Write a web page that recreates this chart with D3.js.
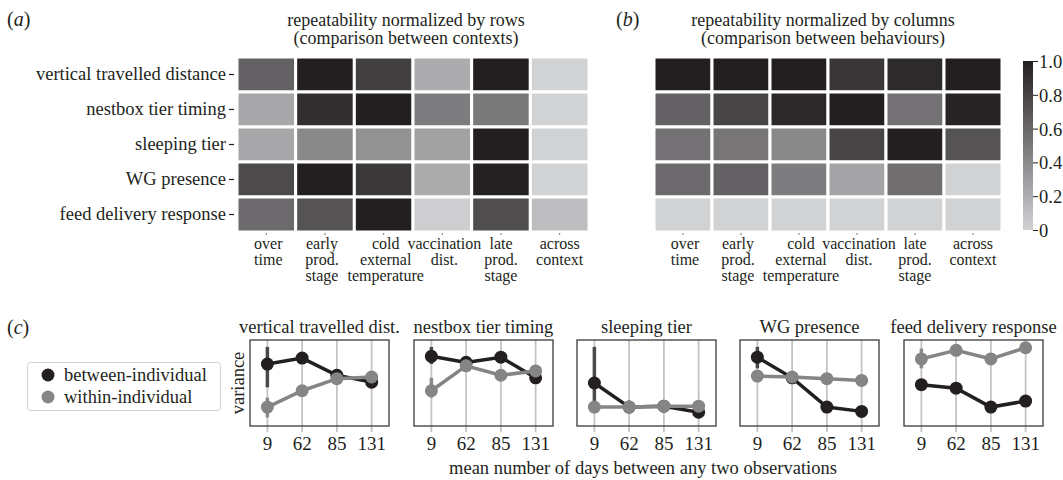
<!DOCTYPE html>
<html><head><meta charset="utf-8">
<script src="https://cdn.jsdelivr.net/npm/d3@7"></script>
<style>
body{margin:0;background:#fff;}
svg text{font-family:"Liberation Serif","Times New Roman",serif;fill:#231f20;}
</style></head>
<body><svg id="c" width="1063" height="480"></svg>
<script>
// ---------- data ----------
const behaviours = ["vertical travelled distance","nestbox tier timing","sleeping tier","WG presence","feed delivery response"];
const contexts = ["over time","early prod. stage","cold external temperature","vaccination dist.","late prod. stage","across context"];
const contextLines = [["over","time"],["early","prod.","stage"],["cold","external","temperature"],["vaccination","dist."],["late","prod.","stage"],["across","context"]];
const rowNorm = [
  [0.63,1.00,0.82,0.21,1.00,0.00],
  [0.24,0.91,1.00,0.48,0.50,0.00],
  [0.24,0.41,0.36,0.27,1.00,0.00],
  [0.76,1.00,0.86,0.22,0.99,0.00],
  [0.58,0.71,1.00,0.02,0.74,0.11]
];
const colNorm = [
  [1.00,1.00,1.00,0.87,0.94,1.00],
  [0.63,0.79,0.95,1.00,0.54,0.97],
  [0.54,0.52,0.41,0.79,1.00,0.71],
  [0.58,0.63,0.48,0.26,0.56,0.00],
  [0.00,0.00,0.00,0.00,0.00,0.00]
];
const colorTicks = [0,0.2,0.4,0.6,0.8,1.0];
const panelTitles = ["vertical travelled dist.","nestbox tier timing","sleeping tier","WG presence","feed delivery response"];
const days = ["9","62","85","131"];
const betweenVar = [
  [0.72,0.79,0.59,0.51],
  [0.81,0.74,0.80,0.56],
  [0.50,0.22,0.23,0.16],
  [0.80,0.56,0.22,0.17],
  [0.48,0.44,0.22,0.29]
];
const withinVar = [
  [0.22,0.41,0.55,0.57],
  [0.41,0.70,0.59,0.64],
  [0.22,0.22,0.23,0.23],
  [0.58,0.57,0.55,0.53],
  [0.78,0.88,0.78,0.91]
];
// confidence intervals at the first interval (9 days)
const betweenCI = [[0.45,0.92],[0.72,0.92],[0.20,0.92],[0.67,0.92],[0.44,0.52]];
const withinCI = [[0.10,0.33],[0.33,0.56],[0.20,0.25],[0.55,0.61],[0.67,0.90]];
const seriesNames = ["between-individual","within-individual"];

// ---------- drawing ----------
const svg = d3.select("#c");
const DARK = "#231f20", GREY = "#858585";
const FS = 18.5;
const color = d3.scaleLinear().domain([0,1]).range(["#d1d2d4","#231f20"]);
const labelDx = [2,-3,2,2,0,0]; // small layout nudges for the multi-line column labels

function heatmap(data, x0, x1, y0, y1, showRows){
  const g = svg.append("g");
  const x = d3.scaleBand().domain(contexts).range([x0,x1]);
  const y = d3.scaleBand().domain(behaviours).range([y0,y1]);
  data.forEach((row,i)=>row.forEach((v,j)=>{
    g.append("rect").attr("x",x(contexts[j])).attr("y",y(behaviours[i]))
      .attr("width",x.bandwidth()).attr("height",y.bandwidth())
      .attr("fill",color(v)).attr("stroke","#fff").attr("stroke-width",3);
  }));
  contexts.forEach((c,j)=>{
    const cx = x(c)+x.bandwidth()/2;
    g.append("line").attr("x1",cx).attr("x2",cx).attr("y1",y1+1).attr("y2",y1+3).attr("stroke","#777");
    const t = g.append("text").attr("text-anchor","middle").attr("font-size",16);
    contextLines[j].forEach((ln,k)=>t.append("tspan").attr("x",cx+labelDx[j]).attr("y",y1+16.5+k*16.3).text(ln));
  });
  if(showRows){
    behaviours.forEach(b=>{
      const cy = y(b)+y.bandwidth()/2;
      g.append("line").attr("x1",x0-8).attr("x2",x0-3).attr("y1",cy).attr("y2",cy).attr("stroke","#231f20").attr("stroke-width",1.2);
      g.append("text").attr("x",x0-11).attr("y",cy+5.5).attr("text-anchor","end").attr("font-size",FS).text(b);
    });
  }
}

heatmap(rowNorm, 237, 589, 57, 232, true);
heatmap(colNorm, 654, 1002, 57, 232, false);

function title2(cx, l1, l2){
  svg.append("text").attr("x",cx).attr("y",26).attr("text-anchor","middle").attr("font-size",18).text(l1);
  svg.append("text").attr("x",cx).attr("y",44).attr("text-anchor","middle").attr("font-size",18).text(l2);
}
title2(406,"repeatability normalized by rows","(comparison between contexts)");
title2(823,"repeatability normalized by columns","(comparison between behaviours)");

function panelLabel(x,y,letter){
  const t = svg.append("text").attr("x",x).attr("y",y).attr("font-size",20);
  t.append("tspan").text("(");
  t.append("tspan").attr("font-style","italic").text(letter);
  t.append("tspan").text(")");
}
panelLabel(7,26,"a");
panelLabel(616,26,"b");
panelLabel(7,334,"c");

// colour bar
const defs = svg.append("defs");
const grad = defs.append("linearGradient").attr("id","cb").attr("x1",0).attr("x2",0).attr("y1",1).attr("y2",0);
d3.range(0,1.01,0.1).forEach(t=>grad.append("stop").attr("offset",t).attr("stop-color",color(t)));
const cbY = d3.scaleLinear().domain([0,1]).range([230,61]);
svg.append("rect").attr("x",1023).attr("y",cbY(1)).attr("width",10).attr("height",cbY(0)-cbY(1)).attr("fill","url(#cb)");
const cbAxis = svg.append("g").attr("transform","translate(1033,0)")
  .call(d3.axisRight(cbY).tickValues(colorTicks).tickSize(5).tickPadding(1).tickFormat(d=>d===0?"0":d3.format(".1f")(d)));
cbAxis.select(".domain").remove();
cbAxis.selectAll("line").attr("stroke","#231f20");
cbAxis.selectAll("text").attr("font-size",FS).attr("font-family","Liberation Serif").attr("fill","#231f20").attr("dy","0.35em");

// panel c small multiples
const pLeft = [250,414,577,740,904], pW = 139, pTop = 340, pBot = 426;
panelTitles.forEach((tt,i)=>{
  const g = svg.append("g");
  const x = d3.scalePoint().domain(days).range([pLeft[i],pLeft[i]+pW]).padding(0.5);
  const y = d3.scaleLinear().domain([0,1]).range([pBot,pTop]);
  days.forEach(d=>{
    g.append("line").attr("x1",x(d)).attr("x2",x(d)).attr("y1",pTop).attr("y2",pBot+6).attr("stroke","#c4c4c4").attr("stroke-width",1.8);
    g.append("text").attr("x",x(d)).attr("y",pBot+24).attr("text-anchor","middle").attr("font-size",19).text(d);
  });
  g.append("rect").attr("x",pLeft[i]).attr("y",pTop).attr("width",pW).attr("height",pBot-pTop)
    .attr("fill","none").attr("stroke","#3a3a3a").attr("stroke-width",1.3);
  g.append("text").attr("x",pLeft[i]+pW/2).attr("y",pTop-7).attr("text-anchor","middle").attr("font-size",FS).text(tt);
  const line = d3.line().x((d,k)=>x(days[k])).y(d=>y(d));
  [[betweenVar,betweenCI,DARK,"#4a4a4a"],[withinVar,withinCI,GREY,"#8a8a8a"]].forEach(([vals,ci,col,ecol])=>{
    g.append("line").attr("x1",x(days[0])).attr("x2",x(days[0])).attr("y1",y(ci[i][0])).attr("y2",y(ci[i][1]))
      .attr("stroke",ecol).attr("stroke-width",3.5);
    g.append("path").datum(vals[i]).attr("d",line).attr("fill","none").attr("stroke",col).attr("stroke-width",3.5);
    vals[i].forEach((v,k)=>g.append("circle").attr("cx",x(days[k])).attr("cy",y(v)).attr("r",6.5).attr("fill",col));
  });
});
svg.append("text").attr("transform","translate(244,383) rotate(-90)").attr("text-anchor","middle").attr("font-size",FS).text("variance");
svg.append("text").attr("x",643).attr("y",474).attr("text-anchor","middle").attr("font-size",FS).text("mean number of days between any two observations");

// legend
svg.append("rect").attr("x",27.5).attr("y",362.5).attr("width",193).attr("height",48).attr("rx",3)
  .attr("fill","#fff").attr("stroke","#d0d0d0").attr("stroke-width",1);
seriesNames.forEach((s,k)=>{
  const cy = 375+k*22;
  svg.append("circle").attr("cx",48).attr("cy",cy).attr("r",6.5).attr("fill",k===0?DARK:GREY);
  svg.append("text").attr("x",64).attr("y",cy+6).attr("font-size",FS).text(s);
});
</script></body></html>
